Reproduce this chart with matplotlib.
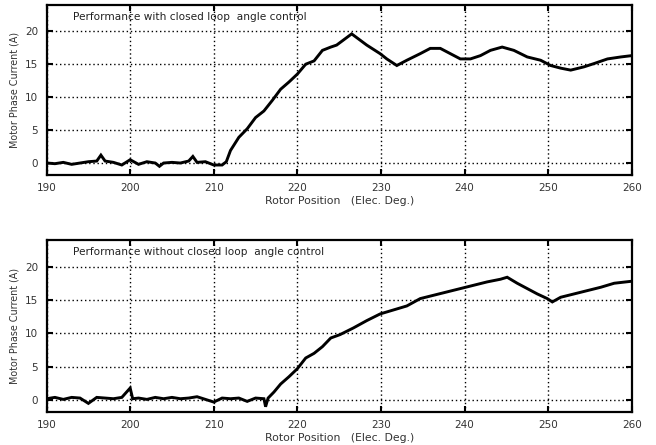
import matplotlib
matplotlib.use("Agg")
import matplotlib.pyplot as plt

plt.rcParams['font.family'] = ['DejaVu Sans']

# top panel: with closed loop angle control
pos_closed = [190, 191, 192, 193, 194, 195, 196, 196.5, 197, 198, 199, 200, 201, 202, 203,
              203.5, 204, 205, 206, 207, 207.5, 208, 209, 210, 211, 211.5,
              212, 213, 214, 215, 216, 217, 218, 219, 220, 221, 222, 223, 224,
              224.7, 226.5, 228.3, 229.9, 230.7, 231.9, 233.1, 234.7, 235.9, 237.1,
              238.3, 239.5, 240.7, 241.9, 243.1, 244.5, 245.9, 247.5, 249.1, 250.3,
              251.5, 252.7, 254.3, 255.5, 257.1, 258.7, 260]
cur_closed = [0.0, -0.1, 0.1, -0.2, 0.0, 0.2, 0.3, 1.2, 0.3, 0.1, -0.3, 0.5, -0.2, 0.2, 0.0,
              -0.5, 0.0, 0.1, 0.0, 0.3, 1.0, 0.1, 0.2, -0.3, -0.3, 0.2,
              1.9, 3.9, 5.2, 6.9, 7.9, 9.5, 11.2, 12.3, 13.5, 15.0, 15.5, 17.1, 17.6,
              17.9, 19.6, 17.9, 16.6, 15.8, 14.8, 15.6, 16.6, 17.4, 17.4,
              16.6, 15.8, 15.8, 16.3, 17.1, 17.6, 17.1, 16.1, 15.6, 14.8,
              14.4, 14.1, 14.6, 15.1, 15.8, 16.1, 16.3]

# bottom panel: without closed loop angle control
pos_open = [190, 191, 192, 193, 194, 195, 196, 197, 198, 199, 200, 200.3, 201, 202, 203,
            204, 205, 206, 207, 208, 209, 210, 211, 212, 213, 214, 215, 216, 216.2,
            216.5, 217.2, 218, 219, 220, 221, 222, 223, 224,
            225.1, 226.7, 228.3, 229.9, 231.5, 233.1, 234.7, 236.3, 237.9, 239.5,
            241.1, 242.7, 244.3, 245.1, 246.3, 247.5, 248.7, 249.9, 250.5, 251.5,
            253.1, 254.7, 256.3, 257.9, 260]
cur_open = [0.2, 0.4, 0.1, 0.4, 0.3, -0.5, 0.4, 0.3, 0.2, 0.4, 1.8, 0.2, 0.3, 0.1, 0.4,
            0.2, 0.4, 0.2, 0.3, 0.5, 0.1, -0.3, 0.3, 0.2, 0.3, -0.2, 0.3, 0.2, -1.0,
            0.3, 1.2, 2.4, 3.5, 4.7, 6.3, 7.0, 8.0, 9.3,
            9.8, 10.8, 11.9, 12.9, 13.5, 14.1, 15.2, 15.7, 16.2, 16.7,
            17.2, 17.7, 18.1, 18.4, 17.5, 16.7, 15.9, 15.2, 14.7, 15.4,
            15.9, 16.4, 16.9, 17.5, 17.8]

x_ticks = [190, 200, 210, 220, 230, 240, 250, 260]
y_ticks = [0, 5, 10, 15, 20]

panels = [
    (pos_closed, cur_closed, "Performance with closed loop  angle control", [0.071, 0.607, 0.892, 0.382]),
    (pos_open, cur_open, "Performance without closed loop  angle control", [0.071, 0.074, 0.892, 0.387]),
]

fig = plt.figure(figsize=(6.56, 4.45), dpi=100)
for x, y, title, rect in panels:
    ax = fig.add_axes(rect)
    ax.plot(x, y, color="black", linewidth=2.1, solid_joinstyle="miter")
    ax.set_xlim(190, 260)
    ax.set_ylim(-1.8, 24)
    ax.set_xticks(x_ticks)
    ax.set_yticks(y_ticks)
    ax.grid(True, color="black", linestyle=(0, (1, 2)), linewidth=1.0)
    ax.tick_params(direction="in", length=4, width=1.5, labelsize=7.5,
                   labelcolor="#333333", top=True, right=True, pad=6)
    for s in ax.spines.values():
        s.set_linewidth(1.6)
    ax.text(0.045, 0.93, title, transform=ax.transAxes, fontsize=7.6,
            va="center", ha="left", color="#222222")
    ax.set_xlabel("Rotor Position   (Elec. Deg.)", fontsize=7.8, color="#333333", labelpad=2)
    ax.set_ylabel("Motor Phase Current (A)", fontsize=6.9, color="#333333", labelpad=4)

fig.savefig("out.png", dpi=100)
